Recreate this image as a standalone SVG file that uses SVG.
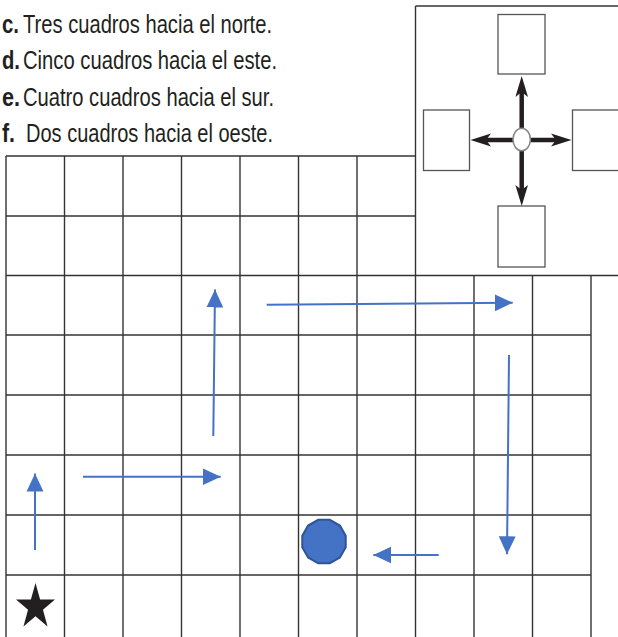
<svg xmlns="http://www.w3.org/2000/svg" width="618" height="637" viewBox="0 0 618 637">
<style>
.txt{font-family:"Liberation Sans",Arial,sans-serif;font-size:26px;fill:#231f20}
.lbl{font-weight:bold}
.grid line{stroke:#333;stroke-width:1.4}
.sq{fill:#fff;stroke:#555;stroke-width:1.3}
.blue{stroke:#4472c4;stroke-width:2;fill:none}
.karrow{stroke:#231f20;stroke-width:4.5}
.khead{fill:#231f20}
</style>
<defs>
<marker id="bh" markerUnits="userSpaceOnUse" markerWidth="18" markerHeight="18" viewBox="0 0 16 16" refX="16" refY="8" orient="auto">
<path d="M0,0.5 L16,8 L0,15.5 Z" fill="#4472c4"/>
</marker>
</defs>
<rect width="618" height="637" fill="#fff"/>

<g id="instructions">
<text class="txt lbl" x="2" y="33" textLength="17" lengthAdjust="spacingAndGlyphs">c.</text>
<text class="txt" x="23" y="33" textLength="249" lengthAdjust="spacingAndGlyphs">Tres cuadros hacia el norte.</text>
<text class="txt lbl" x="2" y="69" textLength="18" lengthAdjust="spacingAndGlyphs">d.</text>
<text class="txt" x="23" y="69" textLength="254" lengthAdjust="spacingAndGlyphs">Cinco cuadros hacia el este.</text>
<text class="txt lbl" x="2" y="106" textLength="18" lengthAdjust="spacingAndGlyphs">e.</text>
<text class="txt" x="23" y="106" textLength="251" lengthAdjust="spacingAndGlyphs">Cuatro cuadros hacia el sur.</text>
<text class="txt lbl" x="2" y="142" textLength="13" lengthAdjust="spacingAndGlyphs">f.</text>
<text class="txt" x="26" y="142" textLength="247" lengthAdjust="spacingAndGlyphs">Dos cuadros hacia el oeste.</text>
</g>

<g id="grid" class="grid">
<line x1="6" y1="156" x2="6" y2="637"/>
<line x1="64.5" y1="156" x2="64.5" y2="637"/>
<line x1="123" y1="156" x2="123" y2="637"/>
<line x1="181.5" y1="156" x2="181.5" y2="637"/>
<line x1="240" y1="156" x2="240" y2="637"/>
<line x1="298.5" y1="156" x2="298.5" y2="637"/>
<line x1="357" y1="156" x2="357" y2="637"/>
<line x1="415.5" y1="6" x2="415.5" y2="637"/>
<line x1="474" y1="275.5" x2="474" y2="637"/>
<line x1="532.5" y1="275.5" x2="532.5" y2="637"/>
<line x1="591" y1="275.5" x2="591" y2="637"/>
<line x1="6" y1="156" x2="415.5" y2="156"/>
<line x1="6" y1="216" x2="415.5" y2="216"/>
<line x1="6" y1="275.5" x2="618" y2="275.5"/>
<line x1="6" y1="335" x2="591" y2="335"/>
<line x1="6" y1="395" x2="591" y2="395"/>
<line x1="6" y1="455" x2="591" y2="455"/>
<line x1="6" y1="515" x2="591" y2="515"/>
<line x1="6" y1="575" x2="591" y2="575"/>
<line x1="415.5" y1="6" x2="618" y2="6"/>
</g>

<g id="compass">
<rect class="sq" x="498" y="14.5" width="47" height="59.5"/>
<rect class="sq" x="423.5" y="110" width="46" height="60.5"/>
<rect class="sq" x="572.5" y="110" width="60" height="60.5"/>
<rect class="sq" x="498" y="206" width="47" height="61"/>
<line class="karrow" x1="521.7" y1="92" x2="521.7" y2="190"/>
<line class="karrow" x1="484" y1="140" x2="558" y2="140"/>
<path class="khead" d="M521.7,76 L528,97 L521.7,92 L515.4,97 Z"/>
<path class="khead" d="M521.7,206 L528,185 L521.7,190 L515.4,185 Z"/>
<path class="khead" d="M470.5,140 L491,133.5 L486,140 L491,146.5 Z"/>
<path class="khead" d="M571.5,140 L551,133.5 L556,140 L551,146.5 Z"/>
<ellipse cx="521.7" cy="139.5" rx="8.7" ry="11.2" fill="#fff" stroke="#888" stroke-width="1.6"/>
</g>

<g id="path-arrows">
<line class="blue" x1="35" y1="550" x2="35" y2="473.5" marker-end="url(#bh)"/>
<line class="blue" x1="83" y1="476.7" x2="220.7" y2="476.7" marker-end="url(#bh)"/>
<line class="blue" x1="213.3" y1="436" x2="215" y2="289.5" marker-end="url(#bh)"/>
<line class="blue" x1="266.7" y1="304.7" x2="512.7" y2="302.7" marker-end="url(#bh)"/>
<line class="blue" x1="509" y1="355" x2="507" y2="554.3" marker-end="url(#bh)"/>
<line class="blue" x1="438.7" y1="555" x2="373.3" y2="555" marker-end="url(#bh)"/>
</g>

<g id="star">
<polygon points="35.5,583 40.1,599.6 55,599.6 42.95,609.8 47.55,626.4 35.5,616.2 23.45,626.4 28.05,609.8 16,599.6 30.9,599.6" fill="#231f20"/>
</g>

<g id="goal">
<polygon points="345.73,535.68 339.91,525.59 329.82,519.77 318.18,519.77 308.09,525.59 302.27,535.68 302.27,547.32 308.09,557.41 318.18,563.23 329.82,563.23 339.91,557.41 345.73,547.32" fill="#4472c4" stroke="#2f5597" stroke-width="2"/>
</g>
</svg>
